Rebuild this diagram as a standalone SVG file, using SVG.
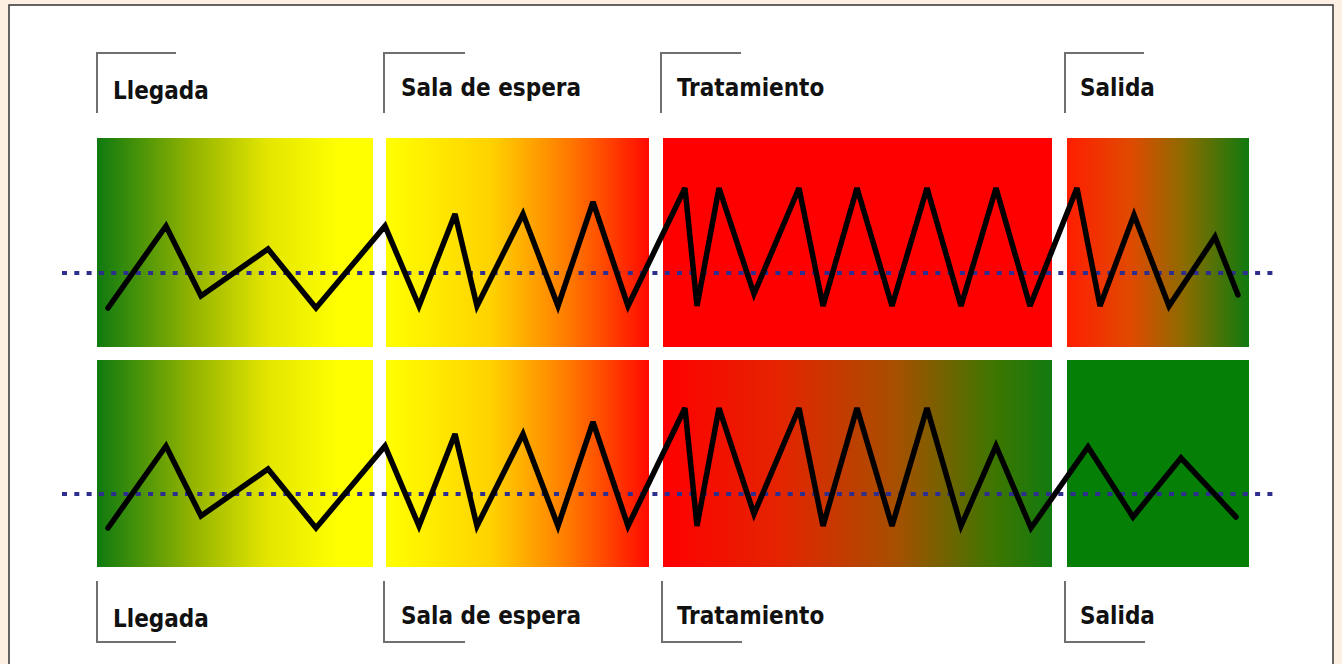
<svg xmlns="http://www.w3.org/2000/svg" width="1342" height="664" viewBox="0 0 1342 664">
<style>
.lbl{font-family:'DejaVu Sans Condensed','DejaVu Sans',sans-serif;font-stretch:condensed;font-weight:bold;font-size:24px;fill:#111}
.br{fill:none;stroke:#707070;stroke-width:2}
.dot{fill:none;stroke:#2e2e8e;stroke-width:4;stroke-dasharray:5 7.3}
.zz{fill:none;stroke:#000;stroke-width:5.5;stroke-linejoin:miter;stroke-miterlimit:3;stroke-linecap:round}
</style>
<defs>
<linearGradient id="gY" x1="0" y1="0" x2="1" y2="0">
<stop offset="0" stop-color="#0f7a10"/><stop offset="0.35" stop-color="#94b400"/><stop offset="0.62" stop-color="#e4e600"/><stop offset="0.88" stop-color="#ffff00"/><stop offset="1" stop-color="#ffff00"/>
</linearGradient>
<linearGradient id="yR" x1="0" y1="0" x2="1" y2="0">
<stop offset="0" stop-color="#ffff00"/><stop offset="0.4" stop-color="#ffd200"/><stop offset="0.7" stop-color="#ff7800"/><stop offset="1" stop-color="#ff0a00"/>
</linearGradient>
<linearGradient id="rG" x1="0" y1="0" x2="1" y2="0">
<stop offset="0" stop-color="#ff1e00"/><stop offset="0.35" stop-color="#e04a00"/><stop offset="0.65" stop-color="#8a6c00"/><stop offset="1" stop-color="#0f7a0f"/>
</linearGradient>
<linearGradient id="rG2" x1="0" y1="0" x2="1" y2="0">
<stop offset="0" stop-color="#ff0000"/><stop offset="0.3" stop-color="#e42400"/><stop offset="0.6" stop-color="#a65000"/><stop offset="0.85" stop-color="#3e7600"/><stop offset="1" stop-color="#127a10"/>
</linearGradient>
</defs>
<rect x="0" y="0" width="1342" height="664" fill="#fdf0e2"/>
<rect x="9" y="5" width="1324" height="670" fill="#ffffff" stroke="#333" stroke-width="1.5"/>

<g id="llegada">
<path class="br" d="M97,113 V53 H176"/>
<text class="lbl" x="113" y="99">Llegada</text>
<rect x="97" y="138" width="276" height="209" fill="url(#gY)"/>
<rect x="97" y="360" width="276" height="207" fill="url(#gY)"/>
<path class="br" d="M97,581 V642 H176"/>
<text class="lbl" x="113" y="627">Llegada</text>
</g>

<g id="sala-de-espera">
<path class="br" d="M384,113 V53 H465"/>
<text class="lbl" x="401" y="96">Sala de espera</text>
<rect x="386" y="138" width="263" height="209" fill="url(#yR)"/>
<rect x="386" y="360" width="263" height="207" fill="url(#yR)"/>
<path class="br" d="M384,581 V642 H465"/>
<text class="lbl" x="401" y="624">Sala de espera</text>
</g>

<g id="tratamiento">
<path class="br" d="M661,113 V53 H741"/>
<text class="lbl" x="677" y="96">Tratamiento</text>
<rect x="663" y="138" width="389" height="209" fill="#ff0000"/>
<rect x="663" y="360" width="389" height="207" fill="url(#rG2)"/>
<path class="br" d="M662,581 V642 H742"/>
<text class="lbl" x="677" y="624">Tratamiento</text>
</g>

<g id="salida">
<path class="br" d="M1065,113 V53 H1144"/>
<text class="lbl" x="1080" y="96">Salida</text>
<rect x="1067" y="138" width="182" height="209" fill="url(#rG)"/>
<rect x="1067" y="360" width="182" height="207" fill="#067f06"/>
<path class="br" d="M1065,581 V642 H1145"/>
<text class="lbl" x="1080" y="624">Salida</text>
</g>

<g id="connectors">
<line class="dot" x1="62" y1="273" x2="1274" y2="273"/>
<line class="dot" x1="62" y1="494" x2="1274" y2="494"/>
<polyline class="zz" points="108,308 166,226 201,296 268,249 316,308 385,226 419,306 455,214 477,306 523,214 558,306 593,202 628,306 685,188 697,306 719,188 754,294 799,188 823,306 857,188 892,306 927,188 961,306 996,188 1030,306 1077,188 1100,306 1134,215 1169,306 1215,237 1238,295"/>
<polyline class="zz" points="108,528 166,446 201,516 268,469 316,528 385,446 419,526 455,434 477,526 523,434 558,526 593,422 628,526 685,408 697,526 719,408 754,514 799,408 823,526 857,408 892,526 927,408 961,526 996,446 1031,528 1088,447 1133,517 1181,458 1236,517"/>
</g>
</svg>
